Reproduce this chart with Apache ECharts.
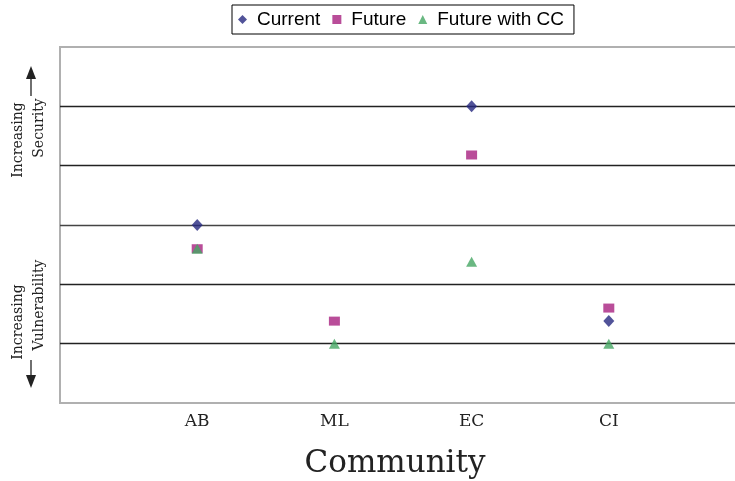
<!DOCTYPE html>
<html>
<head>
<meta charset="utf-8">
<script src="https://cdn.jsdelivr.net/npm/echarts@6/dist/echarts.min.js"></script>
<style>html,body{margin:0;padding:0;background:#fff}#c{width:735px;height:481px}</style>
</head>
<body>
<div id="c"></div>
<script>
var categories = ['AB', 'ML', 'EC', 'CI'];
var current = [3.0, null, 5.0, 1.38];
var future = [2.6, 1.38, 4.18, 1.6];
var futureCC = [2.6, 1.0, 2.38, 1.0];
var seriesNames = ['Current', 'Future', 'Future with CC'];

function toPoints(arr) {
  var out = [];
  arr.forEach(function (v, i) { if (v !== null) out.push([i + 1, v]); });
  return out;
}

var chart = echarts.init(document.getElementById('c'), null, { renderer: 'canvas' });
var serif = 'DejaVu Serif';
chart.setOption({
  animation: false,
  backgroundColor: '#fff',
  legend: {
    left: 232, top: 5,
    data: seriesNames,
    itemWidth: 9, itemHeight: 9, itemGap: 12,
    padding: [5, 10, 5, 6],
    borderColor: '#000', borderWidth: 1,
    textStyle: { fontFamily: 'Liberation Sans', fontSize: 19, color: '#000', padding: [0, 0, 0, 5] }
  },
  grid: {
    left: 60, top: 47, right: -11, bottom: 78,
    containLabel: false, outerBoundsMode: 'none',
    show: true, borderColor: '#b0b0b0', borderWidth: 2
  },
  xAxis: {
    type: 'value', min: 0, max: 5, interval: 1,
    axisLine: { show: false }, axisTick: { show: false }, splitLine: { show: false },
    axisLabel: {
      margin: 10, fontFamily: serif, fontSize: 17, color: '#222',
      formatter: function (v) { return categories[v - 1] || ''; }
    },
    name: 'Community', nameLocation: 'middle', nameGap: 45,
    nameTextStyle: { fontFamily: serif, fontSize: 31, color: '#222', padding: [0, 16, 0, 0] }
  },
  yAxis: {
    type: 'value', min: 0, max: 6, interval: 1,
    axisLine: { show: false }, axisTick: { show: false }, axisLabel: { show: false },
    splitLine: { lineStyle: { color: ['transparent', '#222', '#222', '#444', '#222', '#222', 'transparent'], width: 1.3 } }
  },
  series: [
    { name: seriesNames[0], type: 'scatter', symbol: 'diamond', symbolSize: [11, 12],
      itemStyle: { color: '#25287f' }, data: toPoints(current), z: 3 },
    { name: seriesNames[1], type: 'scatter', symbol: 'rect', symbolSize: [11, 9],
      itemStyle: { color: '#a8207f' }, data: toPoints(future), z: 4 },
    { name: seriesNames[2], type: 'scatter', symbol: 'triangle', symbolSize: [11, 10],
      itemStyle: { color: '#45a663' }, data: toPoints(futureCC), z: 5 }
  ],
  graphic: [
    { type: 'text', x: 18, y: 140, rotation: Math.PI / 2,
      style: { text: 'Increasing', fontFamily: serif, fontSize: 14, fill: '#222', align: 'center', verticalAlign: 'middle' } },
    { type: 'text', x: 39, y: 128, rotation: Math.PI / 2,
      style: { text: 'Security', fontFamily: serif, fontSize: 14, fill: '#222', align: 'center', verticalAlign: 'middle' } },
    { type: 'line', shape: { x1: 31, y1: 96, x2: 31, y2: 76 }, style: { stroke: '#222', lineWidth: 1.3 } },
    { type: 'polygon', shape: { points: [[26, 79], [36, 79], [31, 66]] }, style: { fill: '#222' } },
    { type: 'text', x: 18, y: 322, rotation: Math.PI / 2,
      style: { text: 'Increasing', fontFamily: serif, fontSize: 14, fill: '#222', align: 'center', verticalAlign: 'middle' } },
    { type: 'text', x: 39, y: 305, rotation: Math.PI / 2,
      style: { text: 'Vulnerability', fontFamily: serif, fontSize: 14, fill: '#222', align: 'center', verticalAlign: 'middle' } },
    { type: 'line', shape: { x1: 31, y1: 360, x2: 31, y2: 378 }, style: { stroke: '#222', lineWidth: 1.3 } },
    { type: 'polygon', shape: { points: [[26, 375], [36, 375], [31, 388]] }, style: { fill: '#222' } }
  ]
});
</script>
</body>
</html>
